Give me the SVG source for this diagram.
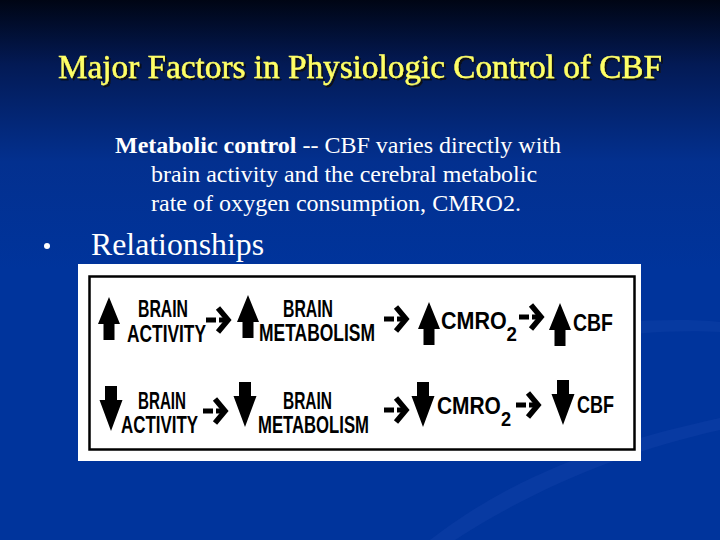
<svg xmlns="http://www.w3.org/2000/svg" xmlns:xlink="http://www.w3.org/1999/xlink" width="720" height="540" viewBox="0 0 720 540">
  <defs>
    <linearGradient id="bg" x1="0" y1="0" x2="0" y2="1">
      <stop offset="0" stop-color="#000514"/>
      <stop offset="0.12" stop-color="#031a55"/>
      <stop offset="0.3" stop-color="#03308f"/>
      <stop offset="0.5" stop-color="#00349c"/>
      <stop offset="1" stop-color="#00349c"/>
    </linearGradient>
    <filter id="shadow" x="-5%" y="-30%" width="110%" height="160%">
      <feDropShadow dx="2" dy="2" stdDeviation="0.6" flood-color="#111111" flood-opacity="0.9"/>
    </filter>
    <path id="upArrow" d="M0,0 L11,27 L5.5,27 L5.5,43 L-5.5,43 L-5.5,27 L-11,27 Z"/>
    <path id="downArrow" d="M0,0 L-11.5,-31 L-6,-31 L-6,-45 L6,-45 L6,-31 L11.5,-31 Z"/>
    <g id="dashArrow">
      <rect x="0" y="-2.5" width="10" height="5"/>
      <rect x="13" y="-2.5" width="8" height="5"/>
      <polyline points="12,-12 22,0 12,12" fill="none" stroke="#000" stroke-width="5.5" stroke-linejoin="miter"/>
    </g>
  </defs>
  <style>
    .title { font-family: "Liberation Serif", "Times New Roman", serif; font-size: 33px; fill: #ffff66; stroke: #ffff66; stroke-width: 0.4px; }
    .body { font-family: "Liberation Serif", "Times New Roman", serif; font-size: 24px; fill: #ffffff; }
    .big { font-family: "Liberation Serif", "Times New Roman", serif; font-size: 32px; fill: #ffffff; }
    .lbl { font-family: "Liberation Sans Narrow", "Liberation Sans", Arial, sans-serif; font-weight: bold; font-size: 23px; fill: #000; }
    .sub { font-size: 20px; }
    .sym { fill: #000; }
  </style>

  <rect x="0" y="0" width="720" height="540" fill="url(#bg)"/>
  <!-- faint swooshes -->
  <path d="M430,540 C520,470 620,440 720,418 L720,430 C630,450 540,485 455,540 Z" fill="#1a4ab0" opacity="0.3"/>
  <path d="M560,330 C620,320 680,318 720,322 L720,332 C680,330 630,332 580,342 Z" fill="#1a4ab0" opacity="0.25"/>

  <!-- Title -->
  <g id="title">
    <text class="title" x="360" y="78" text-anchor="middle" textLength="604" lengthAdjust="spacingAndGlyphs" filter="url(#shadow)">Major Factors in Physiologic Control of CBF</text>
  </g>

  <!-- Body text -->
  <g id="body">
    <text class="body" x="115" y="153" textLength="446" lengthAdjust="spacingAndGlyphs"><tspan font-weight="bold">Metabolic control</tspan> -- CBF varies directly with</text>
    <text class="body" x="151" y="182" textLength="386" lengthAdjust="spacingAndGlyphs">brain activity and the cerebral metabolic</text>
    <text class="body" x="151" y="211" textLength="370" lengthAdjust="spacingAndGlyphs">rate of oxygen consumption, CMRO2.</text>
  </g>

  <g id="bullet">
    <circle cx="47" cy="246" r="3" fill="#ffffff"/>
    <text class="big" x="91" y="255" textLength="173" lengthAdjust="spacingAndGlyphs">Relationships</text>
  </g>

  <!-- Figure panel -->
  <g id="panel">
    <rect x="78" y="264" width="563" height="197" fill="#ffffff"/>
    <rect x="89.5" y="276.5" width="545" height="173" fill="none" stroke="#000" stroke-width="2.5"/>
  </g>

  <!-- Row 1 nodes -->
  <g id="up-brain-activity">
    <use xlink:href="#upArrow" href="#upArrow" x="109" y="297" class="sym"/>
    <text class="lbl" x="138" y="317" textLength="50" lengthAdjust="spacingAndGlyphs">BRAIN</text>
    <text class="lbl" x="127" y="342" textLength="79" lengthAdjust="spacingAndGlyphs">ACTIVITY</text>
  </g>
  <g id="up-brain-metabolism">
    <use xlink:href="#upArrow" href="#upArrow" x="248" y="295" class="sym"/>
    <text class="lbl" x="283" y="317" textLength="50" lengthAdjust="spacingAndGlyphs">BRAIN</text>
    <text class="lbl" x="259" y="341" textLength="116" lengthAdjust="spacingAndGlyphs">METABOLISM</text>
  </g>
  <g id="up-cmro2">
    <use xlink:href="#upArrow" href="#upArrow" x="429" y="302" class="sym"/>
    <text class="lbl" x="441" y="329" textLength="76" lengthAdjust="spacingAndGlyphs">CMRO<tspan class="sub" dy="12">2</tspan></text>
  </g>
  <g id="up-cbf">
    <use xlink:href="#upArrow" href="#upArrow" x="560" y="303" class="sym"/>
    <text class="lbl" x="573" y="331" textLength="40" lengthAdjust="spacingAndGlyphs">CBF</text>
  </g>

  <!-- Row 2 nodes -->
  <g id="down-brain-activity">
    <use xlink:href="#downArrow" href="#downArrow" x="111" y="431" class="sym"/>
    <text class="lbl" x="138" y="409" textLength="48" lengthAdjust="spacingAndGlyphs">BRAIN</text>
    <text class="lbl" x="121" y="433" textLength="77" lengthAdjust="spacingAndGlyphs">ACTIVITY</text>
  </g>
  <g id="down-brain-metabolism">
    <use xlink:href="#downArrow" href="#downArrow" x="245" y="427" class="sym"/>
    <text class="lbl" x="283" y="409" textLength="49" lengthAdjust="spacingAndGlyphs">BRAIN</text>
    <text class="lbl" x="258" y="433" textLength="111" lengthAdjust="spacingAndGlyphs">METABOLISM</text>
  </g>
  <g id="down-cmro2">
    <use xlink:href="#downArrow" href="#downArrow" x="423" y="427" class="sym"/>
    <text class="lbl" x="437" y="414" textLength="74" lengthAdjust="spacingAndGlyphs">CMRO<tspan class="sub" dy="12">2</tspan></text>
  </g>
  <g id="down-cbf">
    <use xlink:href="#downArrow" href="#downArrow" x="563" y="425" class="sym"/>
    <text class="lbl" x="577" y="413" textLength="37" lengthAdjust="spacingAndGlyphs">CBF</text>
  </g>

  <!-- Connectors -->
  <g id="connectors" class="sym">
    <use xlink:href="#dashArrow" href="#dashArrow" transform="translate(206,320)"/>
    <use xlink:href="#dashArrow" href="#dashArrow" transform="translate(384,319)"/>
    <use xlink:href="#dashArrow" href="#dashArrow" transform="translate(519,317)"/>
    <use xlink:href="#dashArrow" href="#dashArrow" transform="translate(203,411)"/>
    <use xlink:href="#dashArrow" href="#dashArrow" transform="translate(384,410)"/>
    <use xlink:href="#dashArrow" href="#dashArrow" transform="translate(516,405)"/>
  </g>
</svg>
